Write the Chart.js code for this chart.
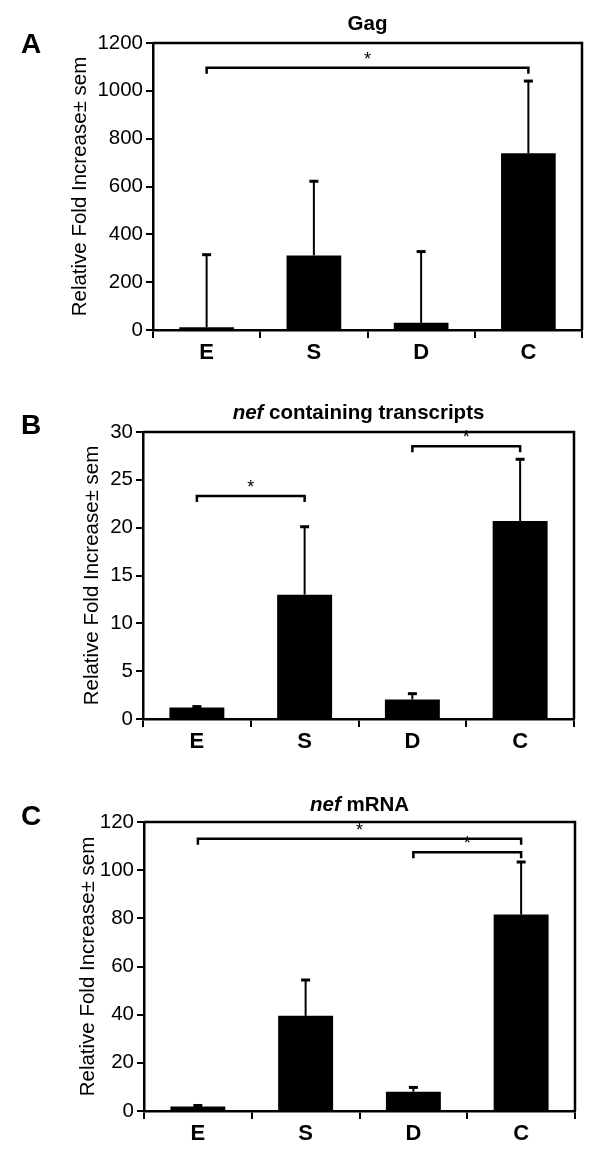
<!DOCTYPE html>
<html>
<head>
<meta charset="utf-8">
<script src="https://cdn.jsdelivr.net/npm/chart.js@4.4.1/dist/chart.umd.min.js"></script>
<style>
  body { margin: 0; background: #fff; }
  canvas { position: absolute; left: 0; }
</style>
</head>
<body>
<canvas id="panelA" width="600" height="390" style="top:0"></canvas>
<canvas id="panelB" width="600" height="390" style="top:390px"></canvas>
<canvas id="panelC" width="600" height="386" style="top:780px"></canvas>
<script>
const categories = ['E', 'S', 'D', 'C']

// A: Gag
const gagValues = [11, 312, 30, 739]
const gagSem = [306, 312, 300, 304]
const gagTicks = [0, 1200, 200]
const gagBrackets = [[0, 3, 1097]]

// B: nef containing transcripts
const nefTxValues = [1.2, 13.0, 2.05, 20.7]
const nefTxSem = [0.15, 7.15, 0.65, 6.5]
const nefTxTicks = [0, 30, 5]
const nefTxBrackets = [[0, 1, 23.3], [2, 3, 28.5]]

// C: nef mRNA
const nefMrnaValues = [1.9, 39.5, 8.0, 81.6]
const nefMrnaSem = [0.6, 15.1, 2.0, 22.0]
const nefMrnaTicks = [0, 120, 20]
const nefMrnaBrackets = [[0, 3, 113], [2, 3, 107.4]]

const FONT = '"Liberation Sans", Arial, Helvetica, sans-serif'
Chart.defaults.color = '#000'
Chart.defaults.font.family = FONT

const annotate = {
  id: 'annotate',
  afterDraw(chart, args, opts) {
    const {ctx, chartArea: a, scales: {x, y}} = chart
    const line = pts => {
      ctx.beginPath()
      pts.forEach(([px, py], i) => (i ? ctx.lineTo(px, py) : ctx.moveTo(px, py)))
      ctx.stroke()
    }
    ctx.save()
    ctx.strokeStyle = '#000'
    ctx.fillStyle = '#000'

    // top and right frame
    ctx.lineWidth = 2.5
    line([[a.left, a.top], [a.right, a.top], [a.right, a.bottom]])

    // upper error bars
    chart.data.datasets[0].data.forEach((v, i) => {
      const cx = x.getPixelForValue(i)
      const y0 = y.getPixelForValue(v)
      const y1 = y.getPixelForValue(v + opts.sem[i])
      ctx.lineWidth = 2
      line([[cx, y0], [cx, y1]])
      ctx.fillRect(cx - 4.5, y1 - 1, 9, 3)
    })

    // significance brackets
    ctx.font = `18px ${FONT}`
    ctx.textAlign = 'center'
    ctx.textBaseline = 'middle'
    opts.brackets.forEach(([i, j, v]) => {
      const xi = x.getPixelForValue(i)
      const xj = x.getPixelForValue(j)
      const yv = y.getPixelForValue(v)
      ctx.lineWidth = 2.5
      line([[xi, yv + 6], [xi, yv], [xj, yv], [xj, yv + 6]])
      ctx.fillText('*', (xi + xj) / 2, yv - 8)
    })

    // panel letter
    ctx.font = `bold 28px ${FONT}`
    ctx.fillText(opts.letter, 31, opts.letterY)

    // title, with an optional italic part
    const parts = opts.title
    ctx.textAlign = 'left'
    const widths = parts.map(([txt, it]) => {
      ctx.font = `${it ? 'italic ' : ''}bold 20.5px ${FONT}`
      return ctx.measureText(txt).width
    })
    let tx = (a.left + a.right) / 2 - widths.reduce((p, c) => p + c) / 2
    parts.forEach(([txt, it], k) => {
      ctx.font = `${it ? 'italic ' : ''}bold 20.5px ${FONT}`
      ctx.fillText(txt, tx, opts.titleY)
      tx += widths[k]
    })

    // y axis title
    ctx.translate(opts.yTitleX, (a.top + a.bottom) / 2)
    ctx.rotate(-Math.PI / 2)
    ctx.textAlign = 'center'
    ctx.font = `20.5px ${FONT}`
    ctx.fillText('Relative Fold Increase\u00b1 sem', 0, 0)
    ctx.restore()
  },
}

function makePanel(id, values, sem, ticks, brackets, layout) {
  const canvas = document.getElementById(id)
  const [min, max, step] = ticks
  return new Chart(canvas, {
    type: 'bar',
    data: {
      labels: categories,
      datasets: [
        {
          data: values,
          backgroundColor: '#000',
          borderWidth: 0,
          barPercentage: 0.51,
          categoryPercentage: 1,
        },
      ],
    },
    options: {
      responsive: false,
      animation: false,
      events: [],
      layout: {
        padding: {top: layout.top, right: 600 - layout.right, left: 0, bottom: 0},
      },
      plugins: {
        legend: {display: false},
        tooltip: {enabled: false},
        annotate: {sem, brackets, ...layout},
      },
      scales: {
        x: {
          afterFit: s => (s.height = canvas.height - layout.bottom),
          grid: {
            offset: true,
            drawOnChartArea: false,
            color: '#000',
            lineWidth: 2,
            tickLength: 8,
          },
          border: {color: '#000', width: 2.5},
          ticks: {font: {size: 22, weight: 'bold'}, padding: 2},
        },
        y: {
          min,
          max,
          afterFit: s => (s.width = layout.left),
          grid: {
            drawOnChartArea: false,
            color: '#000',
            lineWidth: 2,
            tickLength: 7,
          },
          border: {color: '#000', width: 2.5},
          ticks: {
            stepSize: step,
            font: {size: 20.5},
            padding: 3,
            callback: v => String(v),
          },
        },
      },
    },
    plugins: [annotate],
  })
}

makePanel('panelA', gagValues, gagSem, gagTicks, gagBrackets, {
  left: 153, right: 582, top: 43, bottom: 330,
  letter: 'A', letterY: 45, titleY: 24, yTitleX: 80,
  title: [['Gag', false]],
})
makePanel('panelB', nefTxValues, nefTxSem, nefTxTicks, nefTxBrackets, {
  left: 143, right: 574, top: 42, bottom: 329,
  letter: 'B', letterY: 36, titleY: 23, yTitleX: 92,
  title: [['nef', true], [' containing transcripts', false]],
})
makePanel('panelC', nefMrnaValues, nefMrnaSem, nefMrnaTicks, nefMrnaBrackets, {
  left: 144, right: 575, top: 42, bottom: 331,
  letter: 'C', letterY: 37, titleY: 25, yTitleX: 88,
  title: [['nef', true], [' mRNA', false]],
})
</script>
</body>
</html>
